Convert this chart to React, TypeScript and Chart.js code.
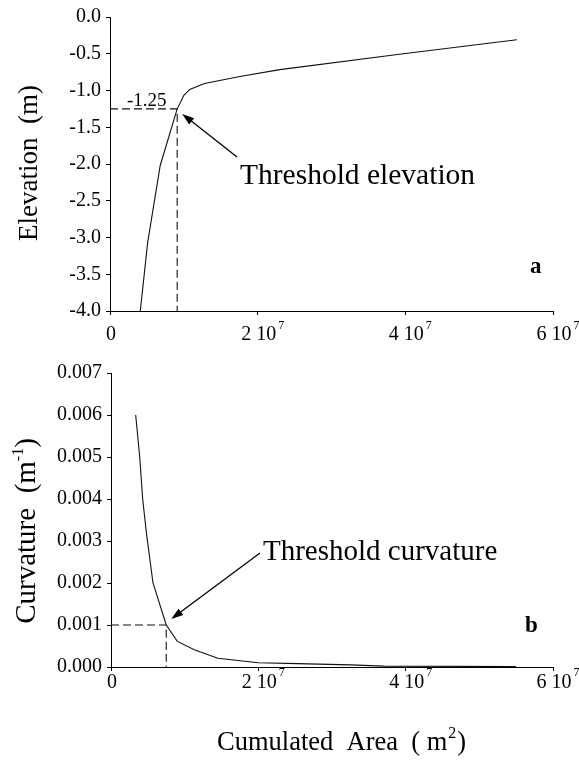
import React, { useEffect, useRef } from "react";
import { Chart, registerables } from "chart.js";

Chart.register(...registerables);

// ---------- data ----------
const elevArea = [4.1e6, 5.1e6, 6.8e6, 9.1e6, 9.6e6, 10.0e6, 10.8e6, 12.8e6, 17.6e6, 23.0e6, 39.2e6, 55.1e6];
const elevValues = [-4.0, -3.07, -2.02, -1.25, -1.15, -1.065, -0.985, -0.905, -0.81, -0.716, -0.507, -0.31];
const elevThresholdArea = 9.1e6;
const elevThreshold = -1.25;

const curvArea = [3.35e6, 3.9e6, 4.3e6, 4.8e6, 5.7e6, 7.5e6, 9.0e6, 11.3e6, 14.5e6, 20e6, 25.3e6, 32.5e6, 37e6, 55e6];
const curvValues = [0.006, 0.005, 0.004, 0.0032, 0.002, 0.001, 0.00061, 0.00041, 0.00021, 0.0001, 0.00008, 0.00005, 0.00002, 0.00001];
const curvThresholdArea = 7.5e6;
const curvThreshold = 0.001;

const xTickValues = [0, 2e7, 4e7, 6e7];
const xTickMain = ["0", "2 10", "4 10", "6 10"];
const xTickSup = ["", "7", "7", "7"];

const elevTitle = "Elevation  (m)";
const curvTitleMain = "Curvature  (m";
const curvTitleSup = "-1";
const xTitleMain = "Cumulated  Area  ( m";
const xTitleSup = "2";
const elevAnnotation = "Threshold elevation";
const curvAnnotation = "Threshold curvature";
const elevThresholdLabel = "-1.25";

// ---------- layout constants ----------
const W = 579;
const TOP_H = 350;
const BOT_H = 410;
const SERIF = "'Liberation Serif', 'Times New Roman', serif";

function drawArrow(ctx: CanvasRenderingContext2D, x0: number, y0: number, x1: number, y1: number) {
  const ang = Math.atan2(y1 - y0, x1 - x0);
  const len = 12;
  const hw = 4;
  ctx.save();
  ctx.strokeStyle = "#000";
  ctx.fillStyle = "#000";
  ctx.lineWidth = 1.3;
  ctx.beginPath();
  ctx.moveTo(x0, y0);
  ctx.lineTo(x1 - Math.cos(ang) * len * 0.8, y1 - Math.sin(ang) * len * 0.8);
  ctx.stroke();
  ctx.beginPath();
  ctx.moveTo(x1, y1);
  ctx.lineTo(x1 - Math.cos(ang) * len - Math.sin(ang) * hw, y1 - Math.sin(ang) * len + Math.cos(ang) * hw);
  ctx.lineTo(x1 - Math.cos(ang) * len + Math.sin(ang) * hw, y1 - Math.sin(ang) * len - Math.cos(ang) * hw);
  ctx.closePath();
  ctx.fill();
  ctx.restore();
}

function drawXTicks(chart: any, baseline: number, supBaseline: number) {
  const ctx: CanvasRenderingContext2D = chart.ctx;
  const xs = chart.scales.x;
  ctx.save();
  ctx.fillStyle = "#000";
  ctx.textBaseline = "alphabetic";
  xTickValues.forEach((v, i) => {
    const px = xs.getPixelForValue(v);
    ctx.font = `20px ${SERIF}`;
    const mw = ctx.measureText(xTickMain[i]).width;
    const left = px - mw / 2 + 1;
    ctx.textAlign = "left";
    ctx.fillText(xTickMain[i], left, baseline);
    if (xTickSup[i]) {
      ctx.font = `12px ${SERIF}`;
      ctx.fillText(xTickSup[i], left + mw + 2, supBaseline);
    }
  });
  ctx.restore();
}

function drawRotated(ctx: CanvasRenderingContext2D, cx: number, baselineX: number, size: number, main: string, sup: string) {
  ctx.save();
  ctx.translate(baselineX, cx);
  ctx.rotate(-Math.PI / 2);
  ctx.fillStyle = "#000";
  ctx.textBaseline = "alphabetic";
  ctx.font = `${size}px ${SERIF}`;
  const mw = ctx.measureText(main).width;
  ctx.font = `16px ${SERIF}`;
  const sw = sup ? ctx.measureText(sup).width : 0;
  ctx.font = `${size}px ${SERIF}`;
  const cw = sup ? ctx.measureText(")").width : 0;
  const total = mw + sw + cw;
  let x = -total / 2;
  ctx.textAlign = "left";
  ctx.fillText(main, x, 0);
  x += mw;
  if (sup) {
    ctx.font = `16px ${SERIF}`;
    ctx.fillText(sup, x, -12);
    x += sw;
    ctx.font = `${size}px ${SERIF}`;
    ctx.fillText(")", x, 0);
  }
  ctx.restore();
}

const topOverlay = {
  id: "topOverlay",
  afterDraw(chart: any) {
    const ctx: CanvasRenderingContext2D = chart.ctx;
    const xs = chart.scales.x;
    const ys = chart.scales.y;
    drawXTicks(chart, 340, 329);
    drawRotated(ctx, 163, 37, 27, elevTitle, "");
    ctx.save();
    ctx.fillStyle = "#000";
    ctx.textAlign = "left";
    ctx.textBaseline = "alphabetic";
    ctx.font = `19px ${SERIF}`;
    ctx.fillText(elevThresholdLabel, 127, 106);
    const tx = 240;
    const ty = 184;
    ctx.font = `29.5px ${SERIF}`;
    ctx.fillText(elevAnnotation, tx, ty);
    ctx.font = `bold 23px ${SERIF}`;
    ctx.fillText("a", 530, 273);
    ctx.restore();
    const hx = xs.getPixelForValue(elevThresholdArea) + 5;
    const hy = ys.getPixelForValue(elevThreshold) + 5;
    drawArrow(ctx, tx - 3, ty - 27, hx, hy);
  },
};

const botOverlay = {
  id: "botOverlay",
  afterDraw(chart: any) {
    const ctx: CanvasRenderingContext2D = chart.ctx;
    const xs = chart.scales.x;
    const ys = chart.scales.y;
    drawXTicks(chart, 338, 326);
    drawRotated(ctx, 181, 35, 29, curvTitleMain, curvTitleSup);
    ctx.save();
    ctx.fillStyle = "#000";
    ctx.textAlign = "left";
    ctx.textBaseline = "alphabetic";
    const tx = 263;
    const ty = 210;
    ctx.font = `29px ${SERIF}`;
    ctx.fillText(curvAnnotation, tx, ty);
    ctx.font = `bold 23px ${SERIF}`;
    ctx.fillText("b", 525, 282);
    // x axis title
    ctx.font = `26.5px ${SERIF}`;
    const mw = ctx.measureText(xTitleMain).width;
    const x0 = 217;
    ctx.fillText(xTitleMain, x0, 400);
    ctx.font = `16px ${SERIF}`;
    const sw = ctx.measureText(xTitleSup).width;
    ctx.fillText(xTitleSup, x0 + mw + 1, 388);
    ctx.font = `26.5px ${SERIF}`;
    ctx.fillText(")", x0 + mw + sw + 2, 400);
    ctx.restore();
    const hx = xs.getPixelForValue(curvThresholdArea) + 5;
    const hy = ys.getPixelForValue(curvThreshold) - 6;
    drawArrow(ctx, tx - 3, ty - 7, hx, hy);
  },
};

function axisCommon(extra: any) {
  return {
    border: { display: true, color: "#000", width: 1 },
    grid: { display: true, drawOnChartArea: false, drawTicks: true, tickLength: 4, color: "#000" },
    ...extra,
  };
}

function makeConfig(
  xs: number[],
  ys: number[],
  thX: number,
  thY: number,
  yMin: number,
  yMax: number,
  yStep: number,
  decimals: number,
  padTop: number,
  axisLeft: number,
  xAxisH: number,
  plugin: any
): any {
  const curve = xs.map((x, i) => ({ x, y: ys[i] }));
  const dash = [
    { x: 0, y: thY },
    { x: thX, y: thY },
    { x: thX, y: yMin },
  ];
  return {
    type: "scatter",
    data: {
      datasets: [
        {
          data: curve,
          showLine: true,
          borderColor: "#111",
          borderWidth: 1.1,
          pointRadius: 0,
          tension: 0,
        },
        {
          data: dash,
          showLine: true,
          borderColor: "#111",
          borderWidth: 1.1,
          borderDash: [8, 4],
          pointRadius: 0,
          tension: 0,
        },
      ],
    },
    options: {
      responsive: false,
      animation: false,
      devicePixelRatio: 1,
      layout: { padding: { left: 0, right: 26, top: padTop, bottom: 0 } },
      plugins: { legend: { display: false }, tooltip: { enabled: false }, title: { display: false } },
      scales: {
        x: axisCommon({
          type: "linear",
          min: 0,
          max: 6e7,
          ticks: { stepSize: 2e7, display: false },
          afterFit: (s: any) => {
            s.height = xAxisH;
          },
        }),
        y: axisCommon({
          type: "linear",
          min: yMin,
          max: yMax,
          ticks: {
            stepSize: yStep,
            color: "#000",
            padding: 5,
            font: { family: SERIF, size: 20 },
            callback: (v: any) => Number(v).toFixed(decimals),
          },
          afterFit: (s: any) => {
            s.width = axisLeft;
          },
        }),
      },
    },
    plugins: [plugin],
  };
}

export default function App() {
  const topRef = useRef<HTMLCanvasElement>(null);
  const botRef = useRef<HTMLCanvasElement>(null);

  useEffect(() => {
    const top = new Chart(
      topRef.current as HTMLCanvasElement,
      makeConfig(elevArea, elevValues, elevThresholdArea, elevThreshold, -4, 0, 0.5, 1, 15, 110, TOP_H - 311, topOverlay)
    );
    const bot = new Chart(
      botRef.current as HTMLCanvasElement,
      makeConfig(curvArea, curvValues, curvThresholdArea, curvThreshold, 0, 0.007, 0.001, 3, 23, 111, BOT_H - 317, botOverlay)
    );
    return () => {
      top.destroy();
      bot.destroy();
    };
  }, []);

  return (
    <div style={{ position: "absolute", left: 0, top: 0, width: W, height: TOP_H + BOT_H, background: "#fff" }}>
      <canvas ref={topRef} width={W} height={TOP_H} style={{ position: "absolute", left: 0, top: 0, width: W, height: TOP_H }} />
      <canvas ref={botRef} width={W} height={BOT_H} style={{ position: "absolute", left: 0, top: TOP_H, width: W, height: BOT_H }} />
    </div>
  );
}
